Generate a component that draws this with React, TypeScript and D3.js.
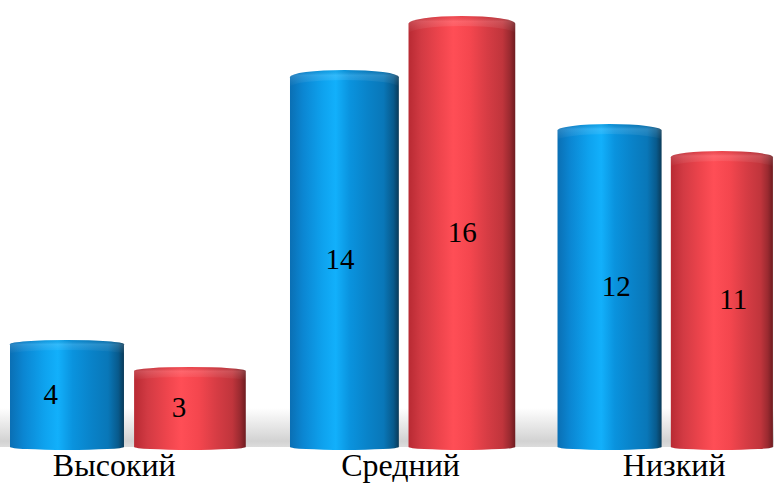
import React from 'react';
import * as d3 from 'd3';

const categories = ['Высокий', 'Средний', 'Низкий'];
const seriesNames = ['Ряд 1', 'Ряд 2'];
const series1 = [4, 14, 12];
const series2 = [3, 16, 11];
const seriesValues = [series1, series2];

const W = 774;
const H = 484;
const FONT = '"Liberation Serif", "DejaVu Serif", "Noto Serif", "Times New Roman", Times, serif';

const gradBlue = [
  ['0%', '#0a6fb4'],
  ['12%', '#0b86d2'],
  ['30%', '#0ea2ee'],
  ['42%', '#12b0fb'],
  ['55%', '#0a93de'],
  ['72%', '#0982c8'],
  ['86%', '#0977b8'],
  ['95%', '#085a8c'],
  ['100%', '#0a3a58'],
];
const gradRed = [
  ['0%', '#b82a33'],
  ['12%', '#d23a43'],
  ['30%', '#ef454d'],
  ['42%', '#ff4e56'],
  ['58%', '#f4464e'],
  ['74%', '#d63c44'],
  ['88%', '#c0353c'],
  ['95%', '#9a2a30'],
  ['100%', '#6e1c20'],
];
const grads = [gradBlue, gradRed];

export default function App() {
  const outer = d3
    .scaleBand<string>()
    .domain(categories)
    .range([0.01, 0.9563])
    .paddingInner(0.161)
    .paddingOuter(0);
  const inner = d3
    .scaleBand<string>()
    .domain(seriesNames)
    .range([0, outer.bandwidth()])
    .paddingInner(0.0823)
    .paddingOuter(0);
  const persp = (t: number) => t / (1 + 0.07 * t);
  const xScreen = d3.scaleLinear().domain([0, 1]).range([1.4, 862.2]);
  const X = (t: number) => xScreen(persp(t));
  const y = d3.scaleLinear().domain([0, 16]).range([448, 16]);
  const front = d3.scaleLinear().domain([452, 552]).range([452, 556.2]);

  const yb = y(0) - 1;
  const ryB = 3;

  const bars: any[] = [];
  categories.forEach((cat, i) => {
    seriesNames.forEach((s, j) => {
      const v = seriesValues[j][i];
      const t0 = (outer(cat) as number) + (inner(s) as number);
      const t1 = t0 + inner.bandwidth();
      const x0 = X(t0);
      const x1 = X(t1);
      const peak = y(v);
      const ryT = 3 + (y(0) - peak) * 0.011;
      bars.push({ cat, s, j, v, x0, x1, peak, ryT });
    });
  });

  return (
    <svg
      width={W}
      height={H}
      style={{ position: 'absolute', left: 0, top: 0, display: 'block', background: '#fff' }}
    >
      <defs>
        {grads.map((g, k) => (
          <linearGradient key={k} id={`body${k}`} x1="0" y1="0" x2="1" y2="0">
            {g.map(([o, c]) => (
              <stop key={o} offset={o} stopColor={c} />
            ))}
          </linearGradient>
        ))}
        <linearGradient id="cap" x1="0" y1="0" x2="0" y2="1">
          <stop offset="0%" stopColor="#000" stopOpacity={0.06} />
          <stop offset="30%" stopColor="#fff" stopOpacity={0.14} />
          <stop offset="100%" stopColor="#fff" stopOpacity={0} />
        </linearGradient>
        <linearGradient id="floor" gradientUnits="userSpaceOnUse" x1="0" y1="408" x2="0" y2="447">
          <stop offset="0%" stopColor="#d0d0d0" stopOpacity={0} />
          <stop offset="45%" stopColor="#d0d0d0" stopOpacity={0.5} />
          <stop offset="85%" stopColor="#cdcdcd" stopOpacity={0.9} />
          <stop offset="100%" stopColor="#d6d6d6" stopOpacity={0.85} />
        </linearGradient>
      </defs>

      <rect x={0} y={408} width={W} height={yb - 408} fill="url(#floor)" />

      {bars.map((b, k) => {
        const rx = (b.x1 - b.x0) / 2;
        const yt = b.peak + b.ryT;
        const d = `M${b.x0},${yb} L${b.x0},${yt} A${rx},${b.ryT} 0 0 1 ${b.x1},${yt} L${b.x1},${yb} A${rx},${ryB} 0 0 1 ${b.x0},${yb} Z`;
        const capH = 10;
        const dc = `M${b.x0},${yt + capH} L${b.x0},${yt} A${rx},${b.ryT} 0 0 1 ${b.x1},${yt} L${b.x1},${yt + capH} A${rx},${b.ryT} 0 0 0 ${b.x0},${yt + capH} Z`;
        return (
          <g key={k}>
            <path d={d} fill={`url(#body${b.j})`} />
            <path d={dc} fill="url(#cap)" />
          </g>
        );
      })}

      {bars.map((b, k) => (
        <text
          key={`l${k}`}
          x={front((b.x0 + b.x1) / 2)}
          y={(b.peak + yb) / 2 + 10}
          textAnchor="middle"
          style={{ fontFamily: FONT, fontSize: '29px' }}
          fill="#000"
        >
          {b.v}
        </text>
      ))}

      {categories.map((cat) => {
        const t0 = outer(cat) as number;
        const cx = (X(t0) + X(t0 + outer.bandwidth())) / 2;
        return (
          <text
            key={cat}
            x={front(cx)}
            y={476}
            textAnchor="middle"
            style={{ fontFamily: FONT, fontSize: '32px' }}
            fill="#000"
          >
            {cat}
          </text>
        );
      })}
    </svg>
  );
}
